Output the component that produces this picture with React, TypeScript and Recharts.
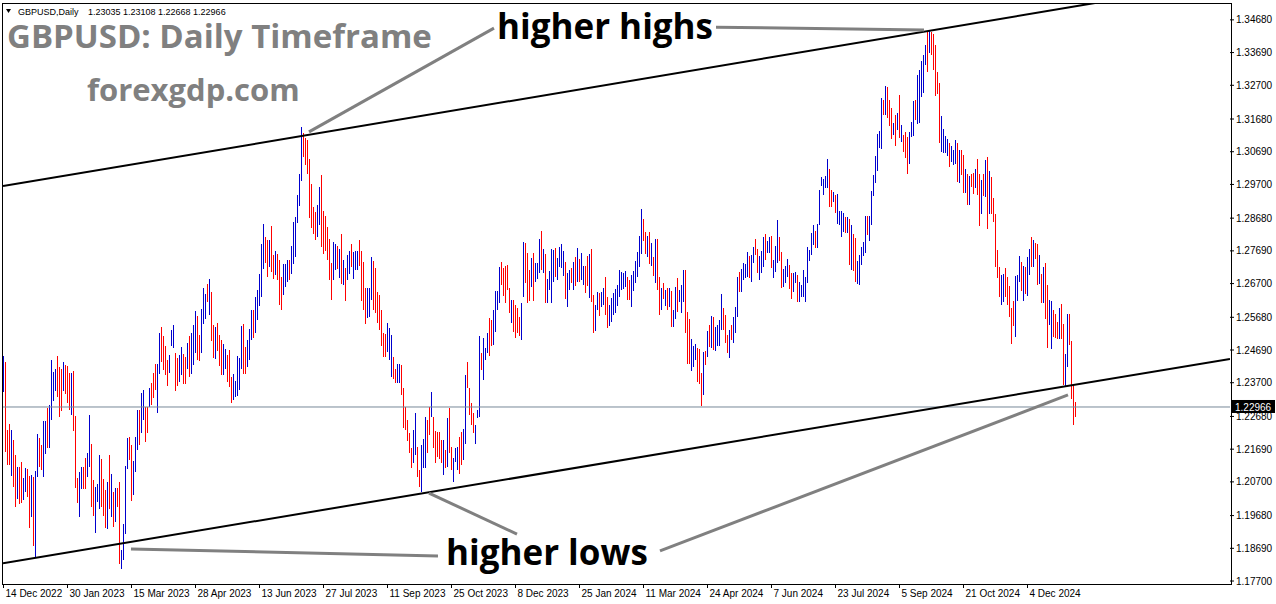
import React from "react";
import { Bar, ComposedChart, ReferenceLine, XAxis, YAxis } from "recharts";

// daily bars, 14 Dec 2022 .. Jan 2025
const highs = [
  1.2452, 1.2433, 1.2227, 1.2245, 1.2227, 1.2197, 1.2152, 1.2116, 1.2114, 1.2130,
  1.2081, 1.2112, 1.2108, 1.2089, 1.2091, 1.2086, 1.2103, 1.2214, 1.2202, 1.2182,
  1.2253, 1.2253, 1.2293, 1.2303, 1.2439, 1.2402, 1.2411, 1.2452, 1.2419, 1.2411,
  1.2433, 1.2424, 1.2421, 1.2399, 1.2399, 1.2406, 1.2270, 1.2083, 1.2101, 1.2116,
  1.2114, 1.2141, 1.2157, 1.2273, 1.2185, 1.2076, 1.2056, 1.2064, 1.2152, 1.2139,
  1.2079, 1.2046, 1.2071, 1.2150, 1.2094, 1.2038, 1.2051, 1.2051, 1.2071, 1.1864,
  1.1942, 1.2118, 1.2204, 1.2207, 1.2182, 1.2134, 1.2207, 1.2288, 1.2288, 1.2340,
  1.2349, 1.2298, 1.2298, 1.2354, 1.2369, 1.2399, 1.2427, 1.2427, 1.2520, 1.2540,
  1.2510, 1.2480, 1.2439, 1.2455, 1.2530, 1.2545, 1.2460, 1.2444, 1.2455, 1.2478,
  1.2458, 1.2448, 1.2490, 1.2512, 1.2519, 1.2544, 1.2586, 1.2571, 1.2514, 1.2592,
  1.2657, 1.2640, 1.2670, 1.2683, 1.2645, 1.2544, 1.2539, 1.2551, 1.2514, 1.2498,
  1.2486, 1.2473, 1.2453, 1.2470, 1.2387, 1.2397, 1.2374, 1.2450, 1.2446, 1.2542,
  1.2547, 1.2478, 1.2498, 1.2534, 1.2589, 1.2591, 1.2630, 1.2650, 1.2700, 1.2791,
  1.2850, 1.2812, 1.2803, 1.2801, 1.2844, 1.2756, 1.2768, 1.2759, 1.2741, 1.2690,
  1.2729, 1.2729, 1.2741, 1.2741, 1.2783, 1.2855, 1.2872, 1.2938, 1.3003, 1.3145,
  1.3125, 1.3112, 1.3104, 1.3046, 1.2970, 1.2902, 1.2887, 1.2907, 1.2963, 1.2998,
  1.2890, 1.2874, 1.2842, 1.2806, 1.2733, 1.2796, 1.2791, 1.2784, 1.2776, 1.2820,
  1.2741, 1.2718, 1.2756, 1.2768, 1.2789, 1.2766, 1.2769, 1.2769, 1.2802, 1.2769,
  1.2734, 1.2656, 1.2656, 1.2656, 1.2749, 1.2739, 1.2717, 1.2646, 1.2636, 1.2590,
  1.2520, 1.2518, 1.2550, 1.2535, 1.2515, 1.2449, 1.2412, 1.2427, 1.2427, 1.2424,
  1.2353, 1.2297, 1.2257, 1.2217, 1.2171, 1.2227, 1.2277, 1.2176, 1.2106, 1.2181,
  1.2201, 1.2267, 1.2257, 1.2297, 1.2343, 1.2267, 1.2225, 1.2222, 1.2220, 1.2196,
  1.2196, 1.2166, 1.2262, 1.2294, 1.2176, 1.2141, 1.2171, 1.2176, 1.2207, 1.2222,
  1.2229, 1.2393, 1.2434, 1.2353, 1.2310, 1.2277, 1.2242, 1.2287, 1.2510, 1.2461,
  1.2504, 1.2474, 1.2520, 1.2565, 1.2560, 1.2590, 1.2649, 1.2649, 1.2719, 1.2735,
  1.2717, 1.2722, 1.2727, 1.2656, 1.2621, 1.2621, 1.2605, 1.2595, 1.2570, 1.2610,
  1.2797, 1.2792, 1.2764, 1.2711, 1.2747, 1.2762, 1.2732, 1.2733, 1.2805, 1.2829,
  1.2775, 1.2761, 1.2683, 1.2708, 1.2775, 1.2771, 1.2777, 1.2748, 1.2782, 1.2791,
  1.2768, 1.2736, 1.2701, 1.2711, 1.2716, 1.2736, 1.2749, 1.2777, 1.2743, 1.2763,
  1.2723, 1.2723, 1.2753, 1.2759, 1.2775, 1.2635, 1.2605, 1.2645, 1.2642, 1.2645,
  1.2657, 1.2689, 1.2628, 1.2605, 1.2627, 1.2642, 1.2655, 1.2667, 1.2711, 1.2706,
  1.2703, 1.2708, 1.2689, 1.2681, 1.2696, 1.2708, 1.2738, 1.2766, 1.2814, 1.2896,
  1.2864, 1.2826, 1.2815, 1.2825, 1.2792, 1.2749, 1.2805, 1.2805, 1.2691, 1.2658,
  1.2673, 1.2652, 1.2657, 1.2657, 1.2647, 1.2590, 1.2660, 1.2686, 1.2650, 1.2665,
  1.2711, 1.2711, 1.2583, 1.2564, 1.2502, 1.2481, 1.2486, 1.2474, 1.2471, 1.2398,
  1.2463, 1.2465, 1.2527, 1.2544, 1.2573, 1.2570, 1.2540, 1.2545, 1.2560, 1.2639,
  1.2595, 1.2575, 1.2515, 1.2530, 1.2545, 1.2570, 1.2600, 1.2691, 1.2706, 1.2714,
  1.2731, 1.2729, 1.2767, 1.2752, 1.2755, 1.2782, 1.2805, 1.2775, 1.2752, 1.2769,
  1.2812, 1.2820, 1.2799, 1.2812, 1.2815, 1.2742, 1.2785, 1.2863, 1.2812, 1.2766,
  1.2714, 1.2724, 1.2745, 1.2727, 1.2701, 1.2703, 1.2706, 1.2696, 1.2676, 1.2666,
  1.2711, 1.2691, 1.2782, 1.2772, 1.2822, 1.2848, 1.2830, 1.2851, 1.2954, 1.2994,
  1.2986, 1.2997, 1.3048, 1.3017, 1.2954, 1.2946, 1.2939, 1.2942, 1.2891, 1.2890,
  1.2885, 1.2870, 1.2870, 1.2866, 1.2846, 1.2820, 1.2807, 1.2739, 1.2757, 1.2780,
  1.2795, 1.2876, 1.2875, 1.2876, 1.2949, 1.2999, 1.3057, 1.3123, 1.3132, 1.3231,
  1.3226, 1.3269, 1.3265, 1.3226, 1.3201, 1.3157, 1.3180, 1.3187, 1.3241, 1.3150,
  1.3120, 1.3130, 1.3115, 1.3130, 1.3160, 1.3221, 1.3226, 1.3301, 1.3316, 1.3345,
  1.3362, 1.3392, 1.3433, 1.3438, 1.3430, 1.3426, 1.3392, 1.3311, 1.3276, 1.3177,
  1.3137, 1.3117, 1.3106, 1.3094, 1.3086, 1.3074, 1.3104, 1.3094, 1.3074, 1.3074,
  1.3059, 1.3017, 1.3003, 1.2995, 1.3003, 1.3005, 1.3017, 1.3046, 1.3003, 1.2983,
  1.3003, 1.3044, 1.3052, 1.3012, 1.2993, 1.2928, 1.2880, 1.2771, 1.2721, 1.2695,
  1.2700, 1.2716, 1.2690, 1.2662, 1.2597, 1.2618, 1.2692, 1.2695, 1.2753, 1.2734,
  1.2723, 1.2721, 1.2749, 1.2776, 1.2812, 1.2801, 1.2793, 1.2789, 1.2756, 1.2700,
  1.2721, 1.2731, 1.2665, 1.2620, 1.2618, 1.2589, 1.2579, 1.2554, 1.2597, 1.2609,
  1.2547, 1.2458, 1.2579, 1.2579, 1.2495, 1.2367, 1.23108,
];

const lows = [
  1.2343, 1.2159, 1.2121, 1.2121, 1.2088, 1.2056, 1.1995, 1.2019, 1.2003, 1.2005,
  1.2015, 1.2040, 1.2025, 1.1929, 1.1965, 1.1876, 1.1841, 1.2086, 1.2114, 1.2106,
  1.2086, 1.2155, 1.2172, 1.2172, 1.2256, 1.2315, 1.2346, 1.2328, 1.2266, 1.2285,
  1.2346, 1.2335, 1.2308, 1.2286, 1.2273, 1.2225, 1.2051, 1.2005, 1.1965, 1.2048,
  1.2049, 1.2048, 1.2086, 1.2116, 1.1993, 1.1968, 1.1916, 1.2010, 1.1989, 1.1995,
  1.1968, 1.1929, 1.1926, 1.1988, 1.1965, 1.1934, 1.1950, 1.1995, 1.1823, 1.1805,
  1.1833, 1.1911, 1.2108, 1.2136, 1.2013, 1.2029, 1.2099, 1.2167, 1.2182, 1.2217,
  1.2258, 1.2192, 1.2219, 1.2298, 1.2303, 1.2323, 1.2349, 1.2278, 1.2396, 1.2434,
  1.2409, 1.2392, 1.2359, 1.2399, 1.2480, 1.2475, 1.2346, 1.2359, 1.2371, 1.2392,
  1.2367, 1.2367, 1.2413, 1.2387, 1.2397, 1.2423, 1.2460, 1.2438, 1.2436, 1.2461,
  1.2549, 1.2564, 1.2615, 1.2574, 1.2496, 1.2445, 1.2443, 1.2466, 1.2421, 1.2392,
  1.2392, 1.2413, 1.2372, 1.2357, 1.2309, 1.2317, 1.2327, 1.2329, 1.2349, 1.2413,
  1.2395, 1.2397, 1.2418, 1.2438, 1.2499, 1.2504, 1.2519, 1.2559, 1.2602, 1.2630,
  1.2714, 1.2731, 1.2690, 1.2721, 1.2705, 1.2685, 1.2697, 1.2682, 1.2605, 1.2589,
  1.2635, 1.2660, 1.2675, 1.2680, 1.2700, 1.2729, 1.2751, 1.2852, 1.2904, 1.2981,
  1.3052, 1.3029, 1.3003, 1.2867, 1.2839, 1.2819, 1.2801, 1.2812, 1.2847, 1.2781,
  1.2761, 1.2768, 1.2741, 1.2680, 1.2620, 1.2682, 1.2710, 1.2714, 1.2688, 1.2670,
  1.2665, 1.2617, 1.2682, 1.2700, 1.2721, 1.2685, 1.2710, 1.2711, 1.2722, 1.2616,
  1.2590, 1.2548, 1.2565, 1.2570, 1.2621, 1.2590, 1.2580, 1.2550, 1.2530, 1.2481,
  1.2447, 1.2449, 1.2464, 1.2439, 1.2388, 1.2380, 1.2368, 1.2370, 1.2370, 1.2333,
  1.2232, 1.2227, 1.2194, 1.2156, 1.2111, 1.2126, 1.2151, 1.2085, 1.2055, 1.2040,
  1.2111, 1.2111, 1.2156, 1.2212, 1.2267, 1.2171, 1.2126, 1.2146, 1.2138, 1.2126,
  1.2090, 1.2111, 1.2116, 1.2156, 1.2106, 1.2070, 1.2131, 1.2106, 1.2095, 1.2121,
  1.2136, 1.2186, 1.2353, 1.2272, 1.2242, 1.2217, 1.2186, 1.2262, 1.2267, 1.2408,
  1.2378, 1.2439, 1.2459, 1.2451, 1.2481, 1.2484, 1.2525, 1.2590, 1.2611, 1.2666,
  1.2631, 1.2611, 1.2651, 1.2580, 1.2550, 1.2525, 1.2504, 1.2520, 1.2510, 1.2499,
  1.2629, 1.2671, 1.2611, 1.2616, 1.2661, 1.2616, 1.2676, 1.2684, 1.2701, 1.2711,
  1.2701, 1.2612, 1.2612, 1.2652, 1.2612, 1.2676, 1.2689, 1.2681, 1.2721, 1.2716,
  1.2693, 1.2622, 1.2598, 1.2650, 1.2671, 1.2650, 1.2662, 1.2676, 1.2676, 1.2681,
  1.2665, 1.2642, 1.2662, 1.2627, 1.2615, 1.2519, 1.2526, 1.2590, 1.2572, 1.2600,
  1.2605, 1.2575, 1.2536, 1.2541, 1.2554, 1.2575, 1.2580, 1.2603, 1.2630, 1.2652,
  1.2655, 1.2660, 1.2620, 1.2620, 1.2600, 1.2647, 1.2673, 1.2689, 1.2721, 1.2759,
  1.2799, 1.2759, 1.2749, 1.2728, 1.2724, 1.2693, 1.2671, 1.2652, 1.2575, 1.2590,
  1.2622, 1.2602, 1.2590, 1.2598, 1.2539, 1.2539, 1.2564, 1.2585, 1.2615, 1.2580,
  1.2615, 1.2521, 1.2428, 1.2428, 1.2406, 1.2418, 1.2438, 1.2373, 1.2367, 1.2299,
  1.2332, 1.2423, 1.2448, 1.2479, 1.2476, 1.2470, 1.2465, 1.2480, 1.2480, 1.2530,
  1.2530, 1.2490, 1.2460, 1.2445, 1.2500, 1.2490, 1.2520, 1.2570, 1.2646, 1.2646,
  1.2681, 1.2686, 1.2691, 1.2688, 1.2676, 1.2731, 1.2755, 1.2701, 1.2681, 1.2701,
  1.2721, 1.2742, 1.2762, 1.2762, 1.2718, 1.2688, 1.2706, 1.2731, 1.2737, 1.2658,
  1.2661, 1.2671, 1.2691, 1.2654, 1.2623, 1.2646, 1.2671, 1.2615, 1.2615, 1.2630,
  1.2630, 1.2615, 1.2671, 1.2737, 1.2755, 1.2787, 1.2777, 1.2779, 1.2848, 1.2964,
  1.2939, 1.2959, 1.2959, 1.2903, 1.2903, 1.2918, 1.2883, 1.2851, 1.2848, 1.2812,
  1.2827, 1.2822, 1.2822, 1.2727, 1.2711, 1.2709, 1.2674, 1.2669, 1.2666, 1.2727,
  1.2752, 1.2762, 1.2817, 1.2799, 1.2848, 1.2934, 1.2974, 1.3012, 1.3080, 1.3078,
  1.3181, 1.3181, 1.3171, 1.3146, 1.3108, 1.3120, 1.3086, 1.3135, 1.3111, 1.3099,
  1.3069, 1.3051, 1.3001, 1.3032, 1.3115, 1.3117, 1.3165, 1.3153, 1.3155, 1.3236,
  1.3248, 1.3332, 1.3311, 1.3367, 1.3362, 1.3317, 1.3238, 1.3244, 1.3094, 1.3069,
  1.3064, 1.3064, 1.3056, 1.3024, 1.3039, 1.3029, 1.3032, 1.2976, 1.2975, 1.3000,
  1.2945, 1.2945, 1.2907, 1.2907, 1.2963, 1.2941, 1.2958, 1.2938, 1.2844, 1.2882,
  1.2935, 1.2933, 1.2835, 1.2882, 1.2882, 1.2857, 1.2719, 1.2688, 1.2630, 1.2604,
  1.2613, 1.2630, 1.2604, 1.2569, 1.2488, 1.2542, 1.2508, 1.2618, 1.2675, 1.2648,
  1.2617, 1.2638, 1.2632, 1.2695, 1.2721, 1.2719, 1.2743, 1.2665, 1.2670, 1.2610,
  1.2610, 1.2564, 1.2475, 1.2544, 1.2473, 1.2508, 1.2506, 1.2503, 1.2503, 1.2503,
  1.2362, 1.2357, 1.2418, 1.2483, 1.2322, 1.2241, 1.22668,
];

// b = bullish bar (blue), r = bearish bar (red)
const sides = [
  "brrrbrrbrr", "bbrrbrbbrr", "bbrbbbbrrr", "brrrbrrrbb", "rrbbrrbbbr",
  "rrbrbrbrrb", "bbbrrbbbrb", "brrbrrrbbr", "rrrbbbrrbb", "rrbrbbbrrb",
  "bbrbrrbrrr", "bbrrrbbbbb", "rrbbbrbbbb", "brrbrrbrrr", "bbbrbbbbbb",
  "rrrrrrrbbr", "rrrrrbbrbr", "brbbrbbbrr", "rrbbbrrrrr", "rrbbbrrbbr",
  "rrrrrbbrrb", "bbrrbrrrrr", "brbrrbbbrr", "bbrrrrbbbr", "bbbrrbbbbr",
  "rrrrbrrrrb", "brrrbrbbbr", "brbbbbrbbb", "brbbrbrbrb", "brrbrrbbrb",
  "brrbbbbbbb", "bbrrbbbbbb", "rrbrbrbrrb", "rbrbrbbrbb", "brrrbbbrrr",
  "brbrbrbbbb", "rrrbrbbbrb", "bbbrbbrrbb", "brbbrbbbrr", "bbbrrbbrbb",
  "bbbbbbrbbb", "bbbrrbrbbb", "brbrbrrbbb", "bbrbbbbbbb", "rbrrrbrbrb",
  "rrrbbbrbbb", "bbrbrrrrrb", "bbbrbbbrbr", "rbrbrrbrrb", "rbrbrrrrrb",
  "brrrrrbbbr", "brbbrbrrbr", "brrbbrrrbr", "rbbrrrr",
].join("");

const dateTickIdx = [0, 32, 64, 96, 128, 160, 192, 224, 256, 288, 320, 352, 384, 416, 448, 480, 512];
const dateLabels = [
  "14 Dec 2022", "30 Jan 2023", "15 Mar 2023", "28 Apr 2023", "13 Jun 2023", "27 Jul 2023",
  "11 Sep 2023", "25 Oct 2023", "8 Dec 2023", "25 Jan 2024", "11 Mar 2024", "24 Apr 2024",
  "7 Jun 2024", "23 Jul 2024", "5 Sep 2024", "21 Oct 2024", "4 Dec 2024",
];

const priceTicks = [
  1.3468, 1.3369, 1.327, 1.3168, 1.3069, 1.297, 1.2868, 1.2769, 1.267,
  1.2568, 1.2469, 1.237, 1.2268, 1.2169, 1.207, 1.1968, 1.1869, 1.177,
];

const lastQuote = [1.23035, 1.23108, 1.22668, 1.22966]; // O H L C

// channel lines and pointer lines, in (bar index, price)
const upperTrend = [{ x: -0.25, y: 1.2965 }, { x: 545.75, y: 1.3519 }];
const lowerTrend = [{ x: -0.25, y: 1.1824 }, { x: 613.25, y: 1.2442 }];
const pointers = [
  [{ x: 152.75, y: 1.3129 }, { x: 245.25, y: 1.3443 }],
  [{ x: 356.25, y: 1.3446 }, { x: 460.25, y: 1.3437 }],
  [{ x: 63.75, y: 1.1867 }, { x: 217.25, y: 1.1846 }],
  [{ x: 212.75, y: 1.2036 }, { x: 256.75, y: 1.1912 }],
  [{ x: 532.25, y: 1.2333 }, { x: 328.25, y: 1.1861 }],
];

const UP = "#0000cd";
const DOWN = "#ff0000";
const AXIS_FONT = "'Liberation Sans', Arial, sans-serif";
const BIG_FONT = "'Open Sans', 'Liberation Sans', sans-serif";

const data = highs.map((h, i) => ({
  i,
  high: h,
  low: lows[i],
  up: sides[i] === "b",
}));

const HLBar = (props: any) => {
  const { x, y, width, height, payload } = props;
  if (x == null || y == null || height == null) return null;
  const top = Math.min(y, y + height);
  const h = Math.max(Math.abs(height), 1);
  return (
    <rect
      x={Math.floor(x + width / 2)}
      y={top}
      width={1}
      height={h}
      fill={payload.up ? UP : DOWN}
      shapeRendering="crispEdges"
    />
  );
};

const DateTick = (props: any) => {
  const { x, y, payload } = props;
  const k = dateTickIdx.indexOf(payload.value);
  return (
    <text x={x + 2} y={y} dy="0.71em" textAnchor="start" fontSize={10} fontFamily={AXIS_FONT} fill="#000">
      {k >= 0 ? dateLabels[k] : ""}
    </text>
  );
};

const PriceTag = (props: any) => {
  const vb = props.viewBox;
  if (!vb) return null;
  const left = vb.x + vb.width + 1;
  return (
    <g>
      <rect x={left} y={vb.y - 7} width={44} height={13} fill="#000" />
      <text x={left + 4} y={vb.y} dy="0.355em" fontSize={10} fontFamily={AXIS_FONT} fill="#fff">
        {lastQuote[3].toFixed(5)}
      </text>
    </g>
  );
};

export default function App() {
  return (
    <div style={{ position: "absolute", left: 0, top: 0, width: 1276, height: 604, background: "#fff" }}>
      <ComposedChart
        width={1276}
        height={604}
        data={data}
        margin={{ top: 3, right: 0, bottom: 0, left: 3 }}
      >
        <XAxis
          type="number"
          dataKey="i"
          domain={[-0.25, 613.25]}
          allowDataOverflow
          ticks={dateTickIdx}
          interval={0}
          height={20}
          axisLine={false}
          tickLine={{ stroke: "#000" }}
          tickSize={4}
          tick={<DateTick />}
        />
        <YAxis
          orientation="right"
          type="number"
          domain={[1.1761, 1.3519]}
          allowDataOverflow
          ticks={priceTicks}
          interval={0}
          width={46}
          axisLine={false}
          tickLine={{ stroke: "#000" }}
          tickSize={4}
          tickFormatter={(v: number) => v.toFixed(5)}
          tick={{ fontSize: 10, fill: "#000", fontFamily: AXIS_FONT }}
        />
        <Bar
          dataKey={(d: any) => [d.low, d.high]}
          barSize={1}
          shape={<HLBar />}
          isAnimationActive={false}
        />
        <ReferenceLine y={lastQuote[3]} stroke="#778899" strokeWidth={1} label={PriceTag} />
        <ReferenceLine segment={upperTrend} stroke="#000" strokeWidth={2} ifOverflow="hidden" />
        <ReferenceLine segment={lowerTrend} stroke="#000" strokeWidth={2} ifOverflow="hidden" />
        {pointers.map((seg, n) => (
          <ReferenceLine key={n} segment={seg} stroke="#808080" strokeWidth={3} ifOverflow="hidden" />
        ))}
      </ComposedChart>
      <svg
        width={1276}
        height={604}
        style={{ position: "absolute", left: 0, top: 0, pointerEvents: "none" }}
      >
        <rect x={2.5} y={3.5} width={1229} height={581} fill="none" stroke="#000" strokeWidth={1} />
        <path d="M6 9 L11 9 L8.5 13 Z" fill="#000" />
        <text y={15} fontSize={9} fontFamily={AXIS_FONT} fill="#000">
          <tspan x={18}>GBPUSD,Daily</tspan>
          <tspan x={88}>{lastQuote.map((v) => v.toFixed(5)).join(" ")}</tspan>
        </text>
        <text x={7} y={48} fontSize={33} fontWeight={700} fontFamily={BIG_FONT} fill="#808080">
          GBPUSD: Daily Timeframe
        </text>
        <text x={87} y={101} fontSize={31} fontWeight={700} fontFamily={BIG_FONT} fill="#808080">
          forexgdp.com
        </text>
        <text x={497} y={39} fontSize={35} fontWeight={700} fontFamily={BIG_FONT} fill="#000">
          higher highs
        </text>
        <text x={446} y={565} fontSize={35} fontWeight={700} fontFamily={BIG_FONT} fill="#000">
          higher lows
        </text>
      </svg>
    </div>
  );
}
